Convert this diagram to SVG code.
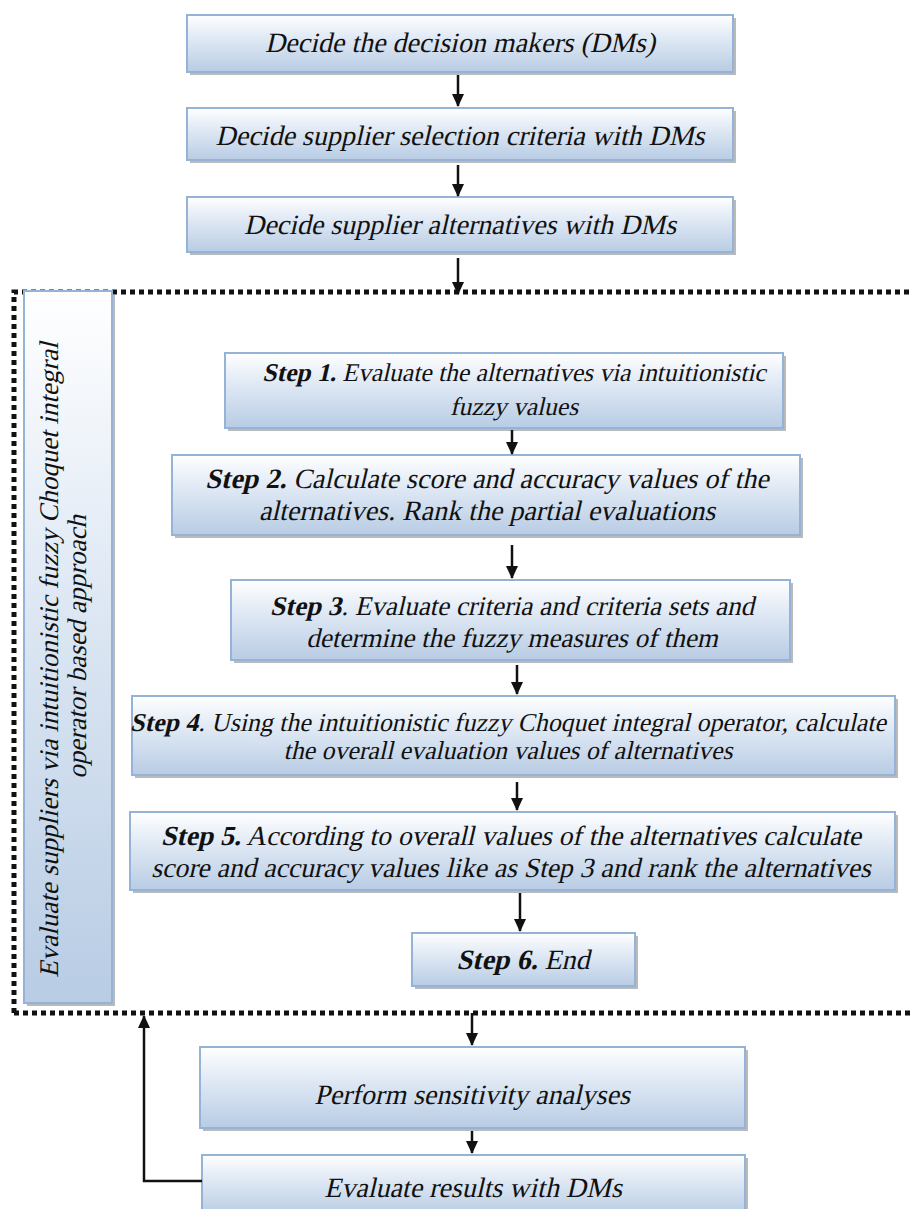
<svg xmlns="http://www.w3.org/2000/svg" width="912" height="1209" viewBox="0 0 912 1209">
<defs>
<linearGradient id="g" x1="0" y1="0" x2="0" y2="1">
<stop offset="0" stop-color="#ffffff"/>
<stop offset="0.35" stop-color="#e4ecf6"/>
<stop offset="1" stop-color="#b8cce4"/>
</linearGradient>
<marker id="ah" viewBox="0 0 13 12" refX="12" refY="6" markerWidth="5.2" markerHeight="4.8" orient="auto" markerUnits="strokeWidth">
<path d="M0,0 L13,6 L0,12 z" fill="#111"/>
</marker>
</defs>
<style>
.box{fill:url(#g);stroke:#95b3d7;stroke-width:2}
.sh{fill:#8c8c8c;opacity:0.6}
.t{font-family:"Liberation Serif","Times New Roman",serif;fill:#111;text-anchor:middle}
.b{font-weight:bold}
.c{stroke:#111;stroke-width:2.5;fill:none}
.a{marker-end:url(#ah)}
.dot{stroke:#111;stroke-width:5;stroke-dasharray:5 4;fill:none}
</style>
<rect width="912" height="1209" fill="#fff"/>

<g id="frame">
<path class="dot" d="M14,1013 L14,292 L912,292"/>
<path class="dot" d="M14,1013 L912,1013"/>
</g>

<g id="n1"><rect class="sh" x="190" y="18" width="546" height="57"/><rect class="box" x="187" y="15" width="546" height="57"/>
<text class="t" font-size="28" transform="translate(460,52) skewX(-13)">Decide the decision makers (DMs)</text></g>
<g id="n2"><rect class="sh" x="190" y="111" width="546" height="52"/><rect class="box" x="187" y="108" width="546" height="52"/>
<text class="t" font-size="28" transform="translate(460,145) skewX(-13)">Decide supplier selection criteria with DMs</text></g>
<g id="n3"><rect class="sh" x="190" y="200" width="546" height="55"/><rect class="box" x="187" y="197" width="546" height="55"/>
<text class="t" font-size="28" transform="translate(460,234) skewX(-13)">Decide supplier alternatives with DMs</text></g>

<g id="side"><rect class="sh" x="27" y="294" width="88" height="712"/><rect class="box" x="24" y="291" width="88" height="712"/>
<text class="t" font-size="27" transform="translate(58,660) rotate(-90) skewX(-13)">Evaluate suppliers via intuitionistic fuzzy Choquet integral</text>
<text class="t" font-size="27" transform="translate(86,647) rotate(-90) skewX(-13)">operator based approach</text></g>

<g id="s1"><rect class="sh" x="228" y="356" width="558" height="75"/><rect class="box" x="225" y="353" width="558" height="75"/>
<text class="t" font-size="25.5" transform="translate(514,381) skewX(-13)"><tspan class="b">Step 1.</tspan> Evaluate the alternatives via intuitionistic</text>
<text class="t" font-size="25.5" transform="translate(514,415) skewX(-13)">fuzzy values</text></g>
<g id="s2"><rect class="sh" x="175" y="458" width="628" height="80"/><rect class="box" x="172" y="455" width="628" height="80"/>
<text class="t" font-size="28" transform="translate(487,488) skewX(-13)"><tspan class="b">Step 2.</tspan> Calculate score and accuracy values of the</text>
<text class="t" font-size="28" transform="translate(487,520) skewX(-13)">alternatives. Rank the partial evaluations</text></g>
<g id="s3"><rect class="sh" x="234" y="583" width="559" height="80"/><rect class="box" x="231" y="580" width="559" height="80"/>
<text class="t" font-size="27" transform="translate(512,615) skewX(-13)"><tspan class="b">Step 3</tspan>. Evaluate criteria and criteria sets and</text>
<text class="t" font-size="27" transform="translate(512,647) skewX(-13)">determine the fuzzy measures of them</text></g>
<g id="s4"><rect class="sh" x="135" y="699" width="763" height="79"/><rect class="box" x="132" y="696" width="763" height="79"/>
<text class="t" font-size="25.8" transform="translate(508,731) skewX(-13)"><tspan class="b">Step 4</tspan>. Using the intuitionistic fuzzy Choquet integral operator, calculate</text>
<text class="t" font-size="25.8" transform="translate(508,759) skewX(-13)">the overall evaluation values of alternatives</text></g>
<g id="s5"><rect class="sh" x="133" y="815" width="765" height="78"/><rect class="box" x="130" y="812" width="765" height="78"/>
<text class="t" font-size="27.6" transform="translate(511,845) skewX(-13)"><tspan class="b">Step 5.</tspan> According to overall values of the alternatives calculate</text>
<text class="t" font-size="27.6" transform="translate(511,877) skewX(-13)">score and accuracy values like as Step 3 and rank the alternatives</text></g>
<g id="s6"><rect class="sh" x="415" y="936" width="223" height="53"/><rect class="box" x="412" y="933" width="223" height="53"/>
<text class="t" font-size="28" transform="translate(523,969) skewX(-13)"><tspan class="b">Step 6.</tspan> End</text></g>

<g id="n4"><rect class="sh" x="203" y="1050" width="545" height="81"/><rect class="box" x="200" y="1047" width="545" height="81"/>
<text class="t" font-size="28" transform="translate(472,1104) skewX(-13)">Perform sensitivity analyses</text></g>
<g id="n5"><rect class="sh" x="205" y="1158" width="543" height="60"/><rect class="box" x="202" y="1155" width="543" height="60"/>
<text class="t" font-size="28" transform="translate(473,1197) skewX(-13)">Evaluate results with DMs</text></g>

<g id="connectors">
<path class="c a" d="M458,75 V106"/>
<path class="c a" d="M458,165 V196"/>
<path class="c a" d="M458,258 V294"/>
<path class="c a" d="M512,430 V454"/>
<path class="c a" d="M512,545 V578"/>
<path class="c a" d="M517,665 V694"/>
<path class="c a" d="M517,782 V810"/>
<path class="c a" d="M520,893 V931"/>
<path class="c a" d="M472,1013 V1045"/>
<path class="c a" d="M472,1131 V1153"/>
<path class="c a" d="M202,1181 H144 V1016"/>
</g>
</svg>
